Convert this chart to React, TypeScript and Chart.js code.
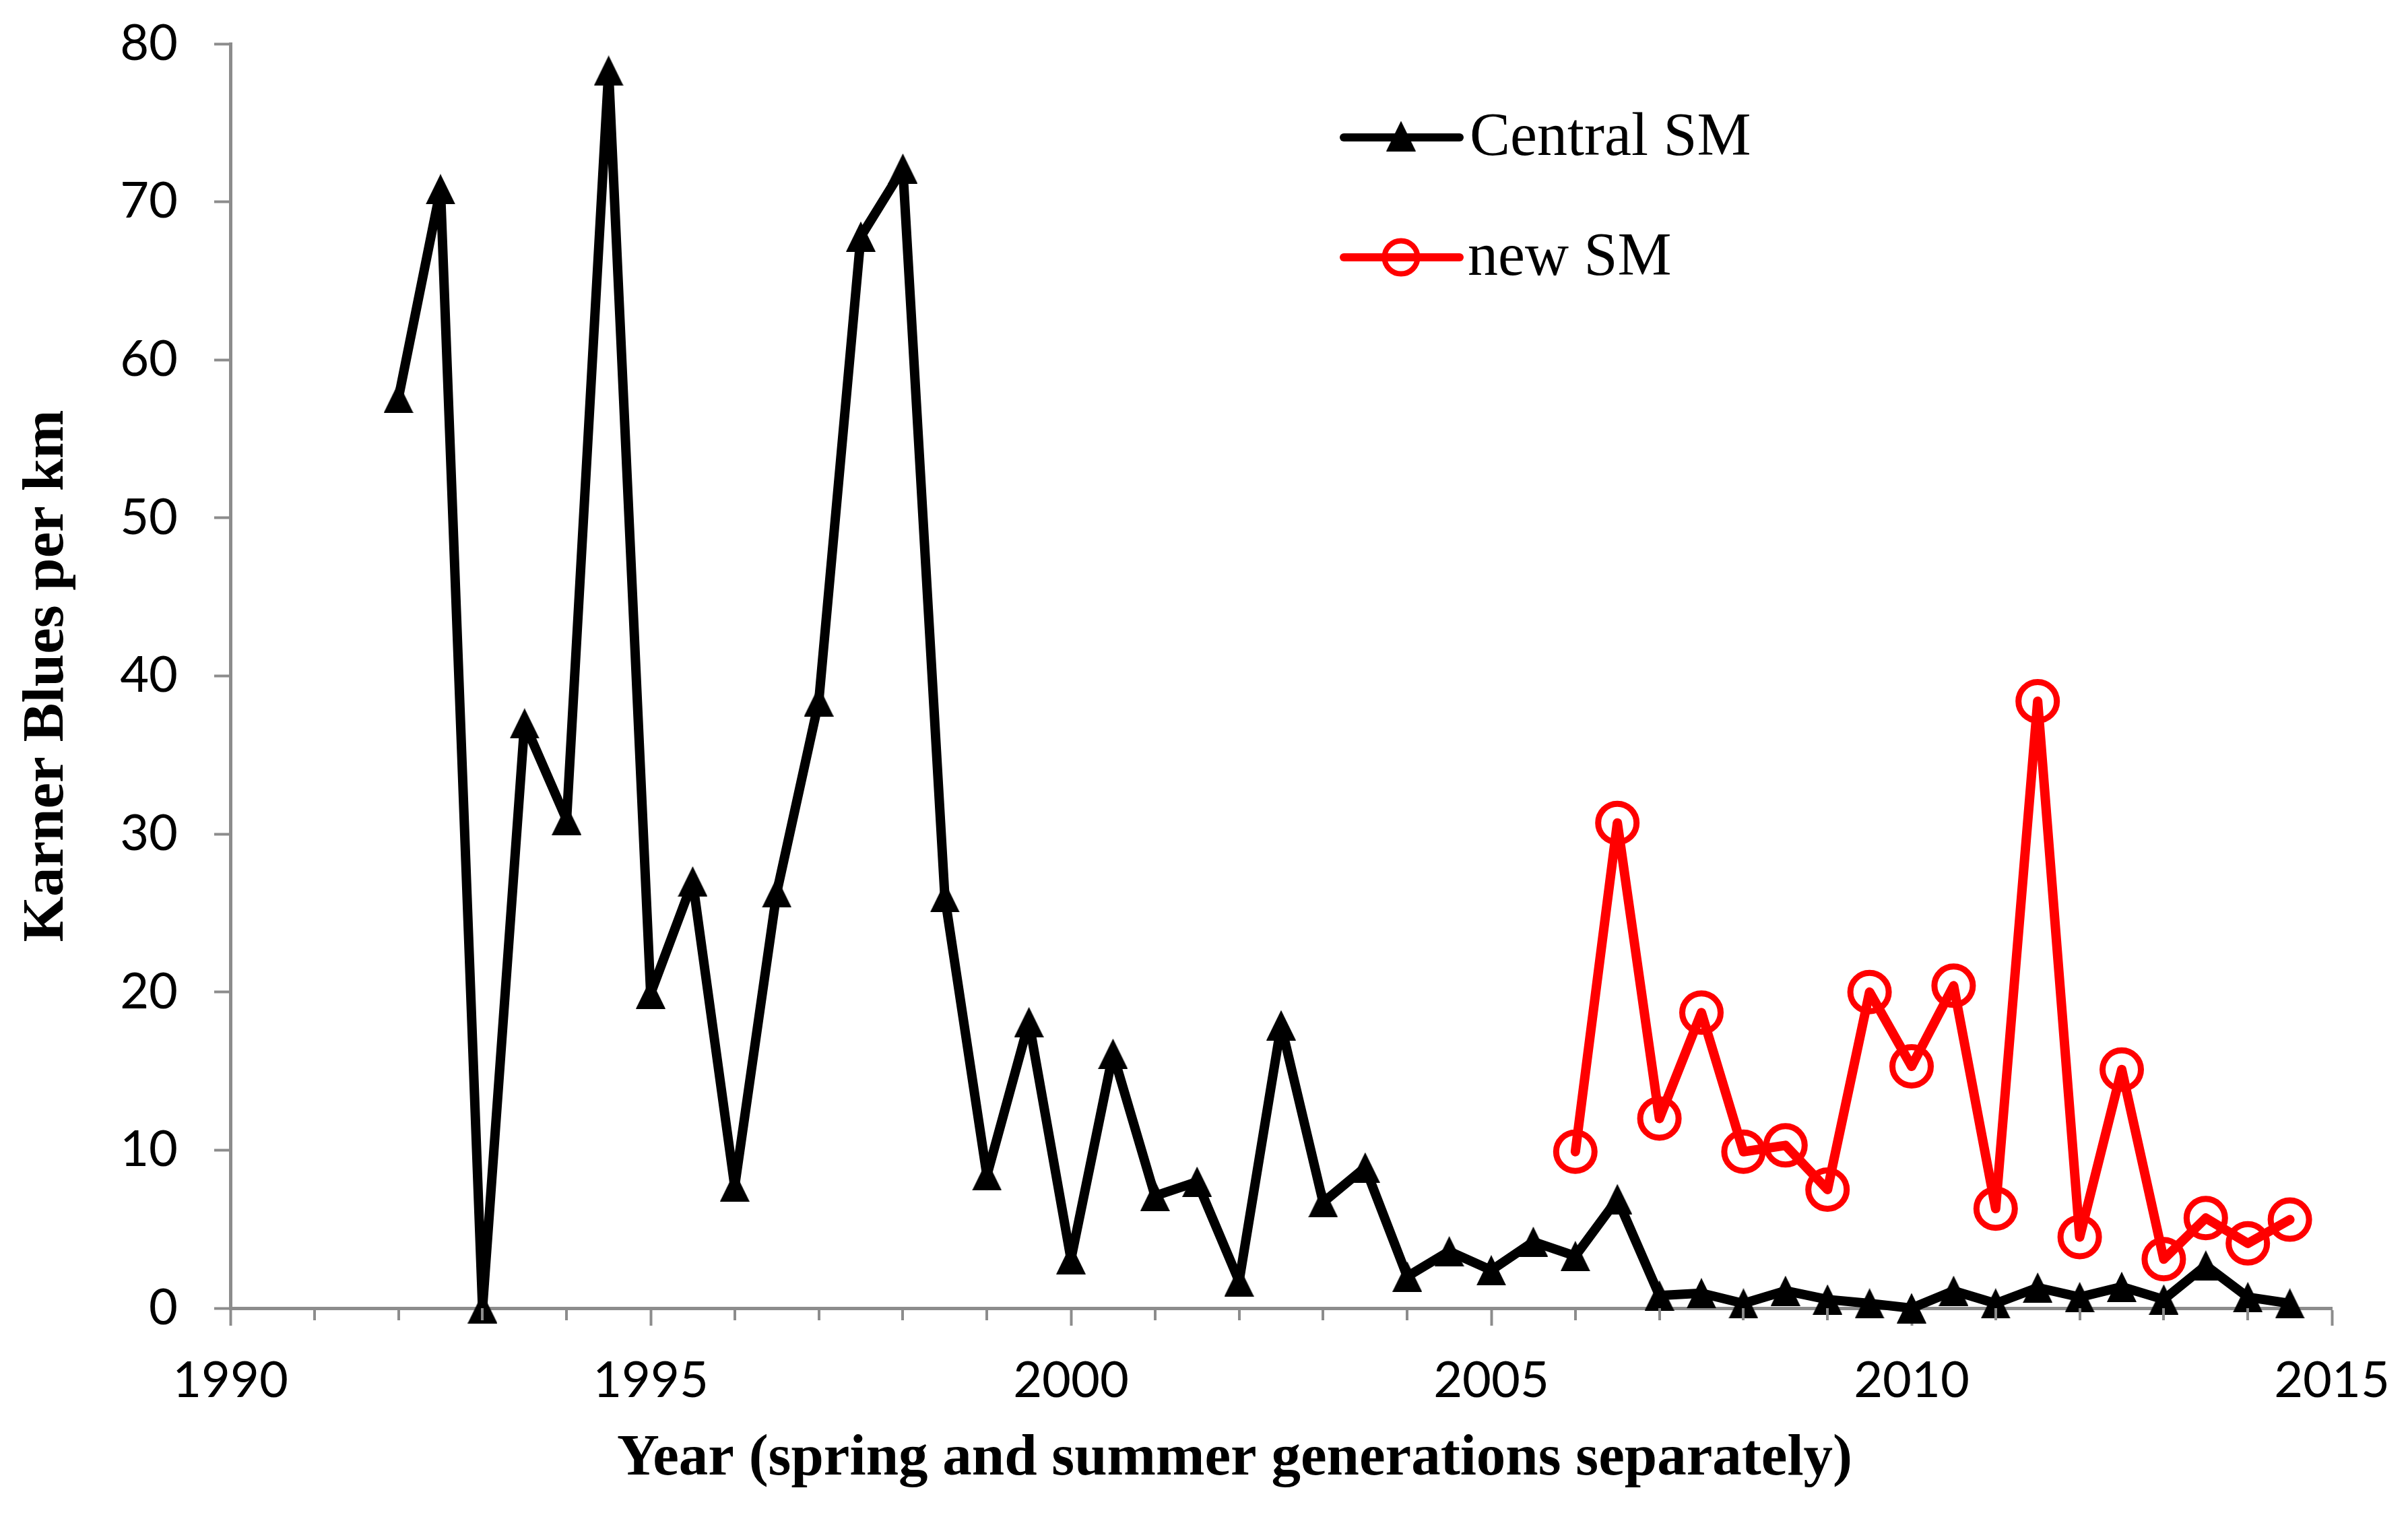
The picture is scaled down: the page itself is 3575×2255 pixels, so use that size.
import { useEffect, useRef } from 'react';
import { Chart, registerables } from 'chart.js';

Chart.register(...registerables);

// spring and summer generations, half a year apart
const centralYears = [
  1992, 1992.5, 1993, 1993.5, 1994, 1994.5, 1995, 1995.5, 1996, 1996.5,
  1997, 1997.5, 1998, 1998.5, 1999, 1999.5, 2000, 2000.5, 2001, 2001.5,
  2002, 2002.5, 2003, 2003.5, 2004, 2004.5, 2005, 2005.5, 2006, 2006.5,
  2007, 2007.5, 2008, 2008.5, 2009, 2009.5, 2010, 2010.5, 2011, 2011.5,
  2012, 2012.5, 2013, 2013.5, 2014, 2014.5,
];
const centralSM = [
  57.6, 70.8, 0, 37.0, 30.9, 78.3, 19.9, 27.0, 7.7, 26.3,
  38.4, 67.8, 72.1, 26.0, 8.4, 18.1, 3.1, 16.1, 7.1, 8.0,
  1.7, 17.9, 6.7, 8.9, 2.0, 3.6, 2.4, 4.2, 3.3, 6.9,
  0.8, 0.95, 0.3, 1.1, 0.55, 0.3, 0, 1.1, 0.3, 1.3,
  0.7, 1.35, 0.55, 2.7, 0.7, 0.3,
];

const newYears = [
  2006, 2006.5, 2007, 2007.5, 2008, 2008.5, 2009, 2009.5, 2010, 2010.5,
  2011, 2011.5, 2012, 2012.5, 2013, 2013.5, 2014, 2014.5,
];
const newSM = [
  9.9, 30.7, 12.0, 18.7, 9.9, 10.3, 7.5, 20.0, 15.3, 20.4,
  6.3, 38.4, 4.5, 15.1, 3.1, 5.7, 4.1, 5.6,
];

const seriesNames = ['Central SM', 'new SM'];
const xTitle = 'Year (spring and summer generations separately)';
const yTitle = 'Karner Blues per km';

const AXIS_GREY = '#8c8c8c';
const SERIF = "'Liberation Serif', 'Times New Roman', serif";
const SANS = "Lato, 'Open Sans', sans-serif";

// Excel-like triangle marker (a bit taller than equilateral)
function makeTriangle(w: number, h: number) {
  const c = document.createElement('canvas');
  c.width = w;
  c.height = h;
  const g = c.getContext('2d');
  if (g) {
    g.fillStyle = '#000';
    g.beginPath();
    g.moveTo(w / 2, 0);
    g.lineTo(w, h);
    g.lineTo(0, h);
    g.closePath();
    g.fill();
  }
  return c;
}

// minor year ticks, x title and the legend are drawn by hand
const makeExtras = (tri: HTMLCanvasElement) => ({
  id: 'extras',
  afterDraw(chart: Chart) {
    const { ctx, chartArea } = chart;
    const xScale = chart.scales.x;
    ctx.save();

    // minor ticks every year
    ctx.strokeStyle = AXIS_GREY;
    ctx.lineWidth = 4;
    for (let yr = 1991; yr < 2015; yr++) {
      if (yr % 5 === 0) continue;
      const px = Math.round(xScale.getPixelForValue(yr));
      ctx.beginPath();
      ctx.moveTo(px, chartArea.bottom);
      ctx.lineTo(px, chartArea.bottom + 18);
      ctx.stroke();
    }

    // x axis title
    ctx.fillStyle = '#000';
    ctx.font = `bold 87px ${SERIF}`;
    ctx.textAlign = 'center';
    ctx.textBaseline = 'middle';
    ctx.fillText(xTitle, 1833, 2167);

    // legend
    const lx1 = 1995;
    const lx2 = 2167;
    const mx = 2080;
    const rows = [204, 382];
    ctx.lineCap = 'round';
    ctx.lineWidth = 12;

    ctx.strokeStyle = '#000';
    ctx.beginPath();
    ctx.moveTo(lx1, rows[0]);
    ctx.lineTo(lx2, rows[0]);
    ctx.stroke();
    ctx.drawImage(tri, mx - tri.width / 2, rows[0] - 2 - tri.height / 2);

    ctx.strokeStyle = '#ff0000';
    ctx.beginPath();
    ctx.moveTo(lx1, rows[1]);
    ctx.lineTo(lx2, rows[1]);
    ctx.stroke();
    ctx.lineWidth = 8;
    ctx.beginPath();
    ctx.arc(mx, rows[1], 24.5, 0, Math.PI * 2);
    ctx.stroke();

    ctx.fillStyle = '#000';
    ctx.font = `90px ${SERIF}`;
    ctx.textAlign = 'left';
    ctx.textBaseline = 'alphabetic';
    ctx.fillText(seriesNames[0], 2182, 230);
    ctx.fillText(seriesNames[1], 2179, 408);

    ctx.restore();
  },
});

export default function App() {
  const chartRef = useRef<HTMLCanvasElement>(null);
  const chartInstance = useRef<Chart | null>(null);

  useEffect(() => {
    document.body.style.margin = '0';
    if (!chartRef.current) return;

    if (chartInstance.current) {
      chartInstance.current.destroy();
    }

    const ctx = chartRef.current.getContext('2d');
    if (!ctx) return;

    const triangle = makeTriangle(44, 45);

    chartInstance.current = new Chart(ctx, {
      type: 'line',
      data: {
        datasets: [
          {
            label: seriesNames[0],
            data: centralYears.map((x, i) => ({ x, y: centralSM[i] })),
            borderColor: '#000',
            borderWidth: 14,
            borderJoinStyle: 'round',
            borderCapStyle: 'round',
            tension: 0,
            pointStyle: triangle,
            pointRadius: 24,
            pointBackgroundColor: '#000',
            pointBorderColor: '#000',
            clip: false,
          },
          {
            label: seriesNames[1],
            data: newYears.map((x, i) => ({ x, y: newSM[i] })),
            borderColor: '#ff0000',
            borderWidth: 14,
            borderJoinStyle: 'round',
            borderCapStyle: 'round',
            tension: 0,
            pointStyle: 'circle',
            pointRadius: 28.5,
            pointBorderWidth: 9,
            pointBackgroundColor: 'rgba(0,0,0,0)',
            pointBorderColor: '#ff0000',
            clip: false,
          },
        ],
      },
      options: {
        animation: false,
        responsive: true,
        maintainAspectRatio: false,
        devicePixelRatio: 1,
        events: [],
        layout: {
          padding: { top: 65, right: 113, left: 0, bottom: 0 },
        },
        scales: {
          x: {
            type: 'linear',
            min: 1990,
            max: 2015,
            afterFit: (scale) => {
              scale.height = 313;
              scale.paddingLeft = 0;
              scale.paddingRight = 0;
            },
            ticks: {
              stepSize: 5,
              padding: 38,
              color: '#000',
              font: { family: SANS, size: 74 },
              callback: (v) => String(v),
            },
            grid: {
              drawOnChartArea: false,
              tickLength: 26,
              tickWidth: 4,
              tickColor: AXIS_GREY,
            },
            border: { color: AXIS_GREY, width: 5 },
          },
          y: {
            min: 0,
            max: 80,
            afterFit: (scale) => {
              scale.width = 342;
              scale.paddingTop = 0;
              scale.paddingBottom = 0;
            },
            ticks: {
              stepSize: 10,
              padding: 54,
              color: '#000',
              font: { family: SANS, size: 74 },
            },
            grid: {
              drawOnChartArea: false,
              tickLength: 24,
              tickWidth: 4,
              tickColor: AXIS_GREY,
            },
            border: { color: AXIS_GREY, width: 5 },
            title: {
              display: true,
              text: yTitle,
              color: '#000',
              font: { family: SERIF, size: 87, weight: 'bold' },
              padding: { top: 18, bottom: 0 },
            },
          },
        },
        plugins: {
          legend: { display: false },
          tooltip: { enabled: false },
        },
      },
      plugins: [makeExtras(triangle)],
    });

    return () => {
      if (chartInstance.current) {
        chartInstance.current.destroy();
        chartInstance.current = null;
      }
    };
  }, []);

  return (
    <div style={{ position: 'absolute', left: 0, top: 0, width: 3575, height: 2255, background: '#fff' }}>
      <canvas ref={chartRef} />
    </div>
  );
}
